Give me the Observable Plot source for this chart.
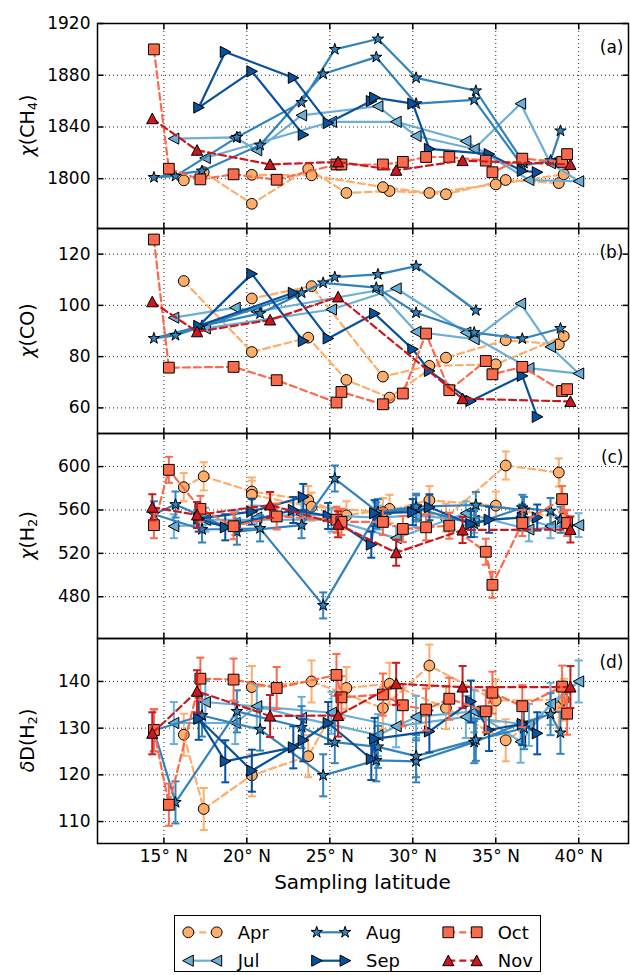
<!DOCTYPE html>
<html><head><meta charset="utf-8">
<script src="https://cdn.jsdelivr.net/npm/d3@7"></script>
<script src="https://cdn.jsdelivr.net/npm/@observablehq/plot@0.6"></script>
<style>
body{margin:0;background:#fff;font-family:"DejaVu Sans",sans-serif;}
#chart svg{display:block;}
</style></head><body><div id="chart"></div>
<script>
// ---- data ----
const months = ["Apr","Jul","Aug","Sep","Oct","Nov"];
const colors = ["#fdae6b","#6baed6","#3182bd","#08519c","#fb6a4a","#cb181d"];
const dashes = ["7,4", undefined, undefined, undefined, "7,4", "7,4"];
const errH2 = [13, 11, 12, 12, 12, 12];
const errDD = [4.5, 4.5, 4.5, 4.5, 4.5, 4.5];

const xTicks = [15, 20, 25, 30, 35, 40];
const ticksCH4 = [1800, 1840, 1880, 1920];
const ticksCO = [60, 80, 100, 120];
const ticksH2 = [480, 520, 560, 600];
const ticksDD = [110, 120, 130, 140];

const aprLat = [16.2, 17.4, 20.3, 23.7, 26.0, 28.6, 32.0, 35.6, 38.8, 39.1, 35.0, 31.0, 28.2, 23.9, 20.3];
const aprCH4 = [1798.7, 1805, 1780.6, 1807.7, 1789, 1790.5, 1788, 1799, 1796.6, 1803.4, 1795.6, 1789, 1793.5, 1802.6, 1803];
const aprCO  = [109.5, null, 81.8, 87.4, 70.9, 64, 79.6, 86.4, 84.8, 88, 77, 76.4, 72.2, 107.5, 102.7];
const aprH2  = [581, 591, 577, 569, 555, 561, 553, 601, 594.5, 552, 564, 569, 558, 563, 574];
const aprDD  = [128.6, 112.7, 119.9, 124, 138.6, 139.5, 134.3, 127.4, 134.5, 136.1, 135.9, 143.4, 134.3, 140, 138.8];

const julLat = [15.6, 19.3, 20.6, 23.3, 27.9, 30.2, 33.7, 36.5, 38.3, 40.0, 37.0, 33.2, 29.0, 25.1, 17.5];
const julCH4 = [1831, 1832, 1822, 1849, 1856, 1833, 1823, 1858, 1812, 1798, 1799, 1829, 1844, 1844, 1816];
const julCO  = [95.2, 99.1, 97.5, null, 105.9, 89.7, 86.8, 100.7, 83.8, 73.4, 75.5, 89.4, 106.6, 98.4, 91];
const julH2  = [545, 548, 553, 556, 553, 555, 550, 553, 545, 546, 542, 557, 534, 551, 551];
const julDD  = [131.1, 131.1, 134.7, 132.2, 128.5, 132.4, 133.6, 127.1, 135.2, 140, 130.7, 132.4, 130.4, 133.3, 135.6];

const augLat = [38.9, 38.3, 36.6, 33.7, 30.2, 27.8, 24.6, 20.8, 17.3, 14.4, 15.7, 19.4, 23.3, 25.3, 27.9, 30.2, 33.8, 36.7];
const augCH4 = [1837, 1814, 1810, 1861, 1858, 1894, 1881, 1826, 1806, 1801, 1802, 1832, 1859, 1900, 1908, 1878, 1868, 1812];
const augCO  = [91, null, 87, 89.4, 97.1, 106.9, 108.8, 96.8, 92, 87.1, 88.3, null, 104.9, 111, 112.1, 115.3, 98, null];
const augH2  = [551, 559, 562, 547, 561.5, 555, 472, 543, 542, 556, 565, 540, 546, 589, 558, 563, 564.6, 560];
const augDD  = [129, 133, 131.1, 127, 122.9, 123.1, 119.9, 129.7, 132.7, 129.5, 114.1, 133.6, 130.2, 127, 126, 124, 127.5, 130];

const sepLat = [23.4, 20.3, 17.1, 18.7, 22.8, 24.9, 27.5, 27.7, 30.0, 31.0, 33.5, 34.6, 36.6, 37.5];
const sepCH4 = [1834, 1883, 1855, 1898, 1878, 1843, 1860, 1862.7, 1858, 1823, null, 1819, 1806, 1805];
const sepCO  = [86.1, 112.3, 92, null, 104.9, 87.1, null, 96.8, 82.9, 74.4, 62.7, null, 72.5, 56.5];
const sepH2  = [572, 558.5, 552, 544, 560, 554.5, 528, 557, 558, 562.5, 547, 551, 553, 553];
const sepDD  = [127.4, 120.9, 132, 122.9, 125.9, 131.1, 123.4, 127.7, null, 129.3, 135.7, 129.6, 130.9, 128.9];

const octLat = [14.4, 15.3, 17.2, 19.2, 21.8, 25.4, 25.7, 28.2, 29.4, 30.8, 32.2, 34.4, 34.8, 36.6, 39.0, 39.3];
const octCH4 = [1900, 1807.7, 1799.5, 1803.4, 1799.2, 1811, 1811, 1811, 1813, 1816.8, 1816.8, 1814, 1805, 1815.5, 1813, 1819];
const octCO  = [125.7, 75.7, null, 76, 70.8, 62.1, 66.2, 61.4, 65.6, 89, 66.9, 78.3, 73.1, 76, 66.6, 67.3];
const octH2  = [546, 597, 561, 545, 554, 551, 549, 549, 542.5, 544, 545.5, 521.5, 491, 548, 570, 548];
const octDD  = [129.6, 113.6, 140.6, 140.4, 138.6, 141.4, 136.6, 137.2, 134.9, 134, 136.3, 133.6, 137.6, 134.7, 138.9, 133.1];

const novLat = [14.3, 17.0, 21.4, 25.5, 29.0, 33.0, 39.5];
const novCH4 = [1846.4, 1822, 1811, 1813, 1806.5, 1814, 1811];
const novCO  = [101.4, 89.7, 94.3, 103.3, null, 63.6, 62.5];
const novH2  = [562.5, 555.4, 564.6, 546.8, 520.6, 541.5, 542];
const novDD  = [128.9, 137.9, 132.6, 132.7, 139.5, 138.8, 138.8];

const lats = [aprLat, julLat, augLat, sepLat, octLat, novLat];
const ch4 = [aprCH4, julCH4, augCH4, sepCH4, octCH4, novCH4];
const co  = [aprCO, julCO, augCO, sepCO, octCO, novCO];
const h2  = [aprH2, julH2, augH2, sepH2, octH2, novH2];
const dd  = [aprDD, julDD, augDD, sepDD, octDD, novDD];

// ---- symbols ----
const poly = pts => ({draw(c){ c.moveTo(pts[0][0], pts[0][1]); for (let i = 1; i < pts.length; i++) c.lineTo(pts[i][0], pts[i][1]); c.closePath(); }});
const symCircle = {draw(c){ c.moveTo(5.4, 0); c.arc(0, 0, 5.4, 0, 2 * Math.PI); }};
const symSquare = {draw(c){ c.rect(-5.4, -5.4, 10.8, 10.8); }};
const symUp = poly([[0, -5.6], [-5.6, 5], [5.6, 5]]);
const symLeft = poly([[-5.6, 0], [5, -5.6], [5, 5.6]]);
const symRight = poly([[5.6, 0], [-5, 5.6], [-5, -5.6]]);
const symStar = (() => { const pts = []; for (let k = 0; k < 10; k++) { const r = k % 2 ? 2.3 : 6; const a = -Math.PI / 2 + k * Math.PI / 5; pts.push([r * Math.cos(a), r * Math.sin(a)]); } return poly(pts); })();
const syms = [symCircle, symLeft, symStar, symRight, symSquare, symUp];
const seg = (x1, y1, x2, y2) => ({draw(c){ c.moveTo(x1, y1); c.lineTo(x2, y2); }});
const capSym = seg(-4, 0, 4, 0);
const tickL = seg(0, 0, 6, 0), tickR = seg(0, 0, -6, 0), tickB = seg(0, 0, 0, -6), tickT = seg(0, 0, 0, 6);

const xDomain = [11, 43];
const W = 630, ML = 97, MR = 2, PH = 205;

function panel(vals, {domain, ticks, err, tag, top = 0, bottom = 0, label}) {
  const marks = [
    Plot.gridX(xTicks, {stroke: "#000", strokeOpacity: 0.85, strokeWidth: 1, strokeDasharray: "1,3"}),
    Plot.gridY(ticks, {stroke: "#000", strokeOpacity: 0.85, strokeWidth: 1, strokeDasharray: "1,3"})
  ];
  months.forEach((m, i) => {
    const rows = lats[i].map((x, j) => ({x, y: vals[i][j]})).filter(d => d.y != null);
    marks.push(Plot.line(rows, {x: "x", y: "y", stroke: colors[i], strokeWidth: 2.2, strokeDasharray: dashes[i]}));
    if (err) {
      const e = err[i];
      marks.push(Plot.ruleX(rows, {x: "x", y1: d => d.y - e, y2: d => d.y + e, stroke: colors[i], strokeWidth: 2}));
      marks.push(Plot.dot(rows, {x: "x", y: d => d.y - e, symbol: capSym, fill: "none", stroke: colors[i], strokeWidth: 2}));
      marks.push(Plot.dot(rows, {x: "x", y: d => d.y + e, symbol: capSym, fill: "none", stroke: colors[i], strokeWidth: 2}));
    }
    marks.push(Plot.dot(rows, {x: "x", y: "y", symbol: syms[i], fill: colors[i], stroke: "#000", strokeWidth: 1}));
  });
  marks.push(
    Plot.dot(ticks, {x: () => xDomain[0], y: d => d, symbol: tickL, fill: "none", stroke: "#000"}),
    Plot.dot(ticks, {x: () => xDomain[1], y: d => d, symbol: tickR, fill: "none", stroke: "#000"}),
    Plot.dot(xTicks, {x: d => d, y: () => domain[0], symbol: tickB, fill: "none", stroke: "#000"}),
    Plot.dot(xTicks, {x: d => d, y: () => domain[1], symbol: tickT, fill: "none", stroke: "#000"}),
    Plot.frame({stroke: "#000", strokeWidth: 1.5}),
    Plot.axisY({ticks, tickSize: 0, tickPadding: 7, fontSize: 17, label: null, tickFormat: d => String(d)}),
    Plot.text([tag], {text: d => d, frameAnchor: "top-right", dx: -5, dy: 17, textAnchor: "end", lineAnchor: "top", fontSize: 17})
  );
  if (bottom) marks.push(Plot.axisX({ticks: xTicks, tickSize: 0, tickPadding: 6, fontSize: 17, label: null, tickFormat: d => `${d}° N`}));
  const svg = Plot.plot({
    width: W, height: PH + top + bottom,
    marginLeft: ML, marginRight: MR, marginTop: top, marginBottom: bottom,
    style: {fontFamily: "DejaVu Sans", fontSize: "17px", color: "#000", background: "#fff", overflow: "visible"},
    x: {domain: xDomain, axis: bottom ? undefined : null},
    y: {domain},
    marks
  });
  // y-axis label with subscript
  const t = d3.select(svg).append("text")
    .attr("transform", `translate(27,${top + PH / 2}) rotate(-90)`)
    .attr("text-anchor", "middle").attr("dominant-baseline", "central")
    .attr("font-size", 19).attr("font-family", "DejaVu Sans").attr("fill", "#000");
  label.forEach(([s, kind]) => {
    const ts = t.append("tspan").text(s);
    if (kind === "i") ts.attr("font-style", "italic");
    if (kind === "sub") ts.attr("font-size", 13).attr("dy", 5);
    if (kind === "up") ts.attr("dy", -5);
  });
  if (bottom) {
    d3.select(svg).append("text").attr("x", ML + (W - ML - MR) / 2).attr("y", top + PH + 39)
      .attr("text-anchor", "middle").attr("dominant-baseline", "central")
      .attr("font-size", 20).attr("font-family", "DejaVu Sans").attr("fill", "#000")
      .text("Sampling latitude");
  }
  return svg;
}

const chart = document.getElementById("chart");
chart.append(panel(ch4, {domain: [1761.5, 1920], ticks: ticksCH4, tag: "(a)", top: 23, label: [["χ", "i"], ["(CH"], ["4", "sub"], [")", "up"]]}));
chart.append(panel(co, {domain: [50, 130], ticks: ticksCO, tag: "(b)", label: [["χ", "i"], ["(CO)"]]}));
chart.append(panel(h2, {domain: [441.5, 630.5], ticks: ticksH2, err: errH2, tag: "(c)", label: [["χ", "i"], ["(H"], ["2", "sub"], [")", "up"]]}));
chart.append(panel(dd, {domain: [105.3, 149.2], ticks: ticksDD, err: errDD, tag: "(d)", bottom: 55, label: [["δ", "i"], ["D(H"], ["2", "sub"], [")", "up"]]}));

// ---- legend ----
const leg = d3.create("svg").attr("width", W).attr("height", 77);
leg.append("rect").attr("x", 174.5).attr("y", 17.5).attr("width", 366).attr("height", 56)
  .attr("fill", "#fff").attr("stroke", "#000").attr("stroke-width", 1);
const colX = [188.3, 316.7, 448.3];
const rowY = [34.3, 62.7];
months.forEach((m, i) => {
  const col = Math.floor(i / 2), row = i % 2;
  const x1 = colX[col], x2 = x1 + 28.4, y = rowY[row];
  const g = leg.append("g");
  g.append("line").attr("x1", x1).attr("x2", x2).attr("y1", y).attr("y2", y)
    .attr("stroke", colors[i]).attr("stroke-width", 2.2).attr("stroke-dasharray", dashes[i] || null);
  [x1, x2].forEach(x => g.append("path").attr("d", d3.symbol(syms[i])()).attr("transform", `translate(${x},${y})`)
    .attr("fill", colors[i]).attr("stroke", "#000").attr("stroke-width", 1));
  g.append("text").attr("x", x2 + 21).attr("y", y).attr("dominant-baseline", "central")
    .attr("font-size", 18).attr("font-family", "DejaVu Sans").attr("fill", "#000").text(m);
});
chart.append(leg.node());
</script></body></html>
